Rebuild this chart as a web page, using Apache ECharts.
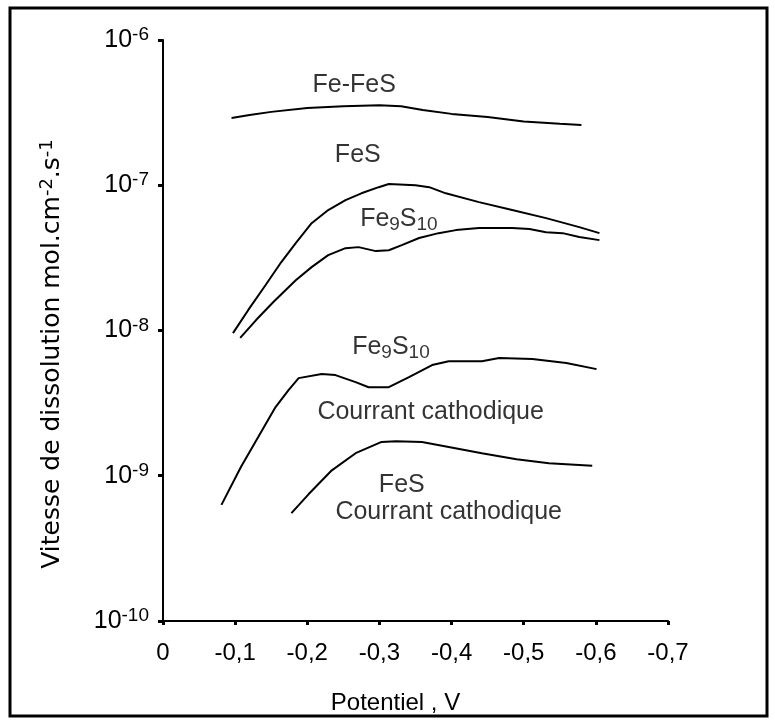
<!DOCTYPE html>
<html>
<head>
<meta charset="utf-8">
<script src="https://cdn.jsdelivr.net/npm/echarts@6/dist/echarts.min.js"></script>
<style>html,body{margin:0;padding:0;background:#fff}#c{width:775px;height:723px}</style>
</head>
<body>
<div id="c"></div>
<script>
// Potentials (V) and dissolution rates (mol.cm-2.s-1)
const feFeS_V = [-0.095, -0.12, -0.15, -0.20, -0.25, -0.30, -0.33, -0.36, -0.40, -0.45, -0.50, -0.55, -0.58];
const feFeS_R = [2.9e-7, 3.05e-7, 3.2e-7, 3.4e-7, 3.5e-7, 3.55e-7, 3.5e-7, 3.3e-7, 3.1e-7, 2.95e-7, 2.75e-7, 2.65e-7, 2.6e-7];

const feS_V = [-0.097, -0.118, -0.142, -0.164, -0.184, -0.206, -0.229, -0.253, -0.275, -0.299, -0.313, -0.350, -0.369, -0.392, -0.438, -0.484, -0.531, -0.577, -0.605];
const feS_R = [9.6e-9, 1.38e-8, 2.05e-8, 2.96e-8, 4.0e-8, 5.48e-8, 6.75e-8, 7.9e-8, 8.8e-8, 9.7e-8, 1.02e-7, 1.0e-7, 9.7e-8, 8.8e-8, 7.65e-8, 6.75e-8, 5.94e-8, 5.15e-8, 4.68e-8];

const fe9S10_V = [-0.107, -0.129, -0.153, -0.184, -0.206, -0.229, -0.253, -0.271, -0.295, -0.313, -0.331, -0.355, -0.382, -0.406, -0.438, -0.484, -0.508, -0.531, -0.554, -0.577, -0.605];
const fe9S10_R = [8.9e-9, 1.18e-8, 1.57e-8, 2.22e-8, 2.73e-8, 3.30e-8, 3.69e-8, 3.75e-8, 3.52e-8, 3.57e-8, 3.87e-8, 4.33e-8, 4.68e-8, 4.91e-8, 5.07e-8, 5.07e-8, 4.99e-8, 4.75e-8, 4.68e-8, 4.40e-8, 4.19e-8];

const fe9S10c_V = [-0.081, -0.108, -0.132, -0.156, -0.174, -0.188, -0.220, -0.239, -0.267, -0.285, -0.313, -0.341, -0.373, -0.396, -0.442, -0.466, -0.512, -0.559, -0.601];
const fe9S10c_R = [6.3e-10, 1.15e-9, 1.85e-9, 2.97e-9, 3.89e-9, 4.70e-9, 5.01e-9, 4.93e-9, 4.41e-9, 4.07e-9, 4.07e-9, 4.78e-9, 5.78e-9, 6.15e-9, 6.15e-9, 6.46e-9, 6.36e-9, 5.97e-9, 5.42e-9];

const feSc_V = [-0.178, -0.202, -0.234, -0.267, -0.303, -0.323, -0.359, -0.396, -0.442, -0.490, -0.535, -0.595];
const feSc_R = [5.53e-10, 7.48e-10, 1.09e-9, 1.43e-9, 1.71e-9, 1.73e-9, 1.71e-9, 1.58e-9, 1.43e-9, 1.30e-9, 1.22e-9, 1.17e-9];

// Curve annotations (text, potential, rate)
const noteText = ['Fe-FeS', 'FeS', 'Fe{sub|9}S{sub|10}', 'Fe{sub|9}S{sub|10}', 'Courrant cathodique', 'FeS', 'Courrant cathodique'];
const noteV    = [-0.265, -0.27, -0.327, -0.316, -0.371, -0.331, -0.396];
const noteR    = [4.9e-7, 1.6e-7, 5.85e-8, 7.7e-9, 2.74e-9, 8.6e-10, 5.6e-10];

// Axis ticks
const xMin = -0.7, xMax = 0, xStep = 0.1;
const yMin = 1e-10, yMax = 1e-6;
const yTitle = 'Vitesse de dissolution mol.cm{s|-2}.s{s|-1}';
const xTitle = 'Potentiel , V';

const FONT = '"Liberation Sans", Arial, sans-serif';
const WFONT = '"DejaVu Sans", "Liberation Sans", sans-serif';
const zip = (a, b) => a.map((v, i) => [v, b[i]]);
const lineSeries = (V, R) => ({
  type: 'line', data: zip(V, R), showSymbol: false, symbol: 'none',
  lineStyle: { color: '#000', width: 2 }, silent: true, animation: false
});

const chart = echarts.init(document.getElementById('c'), null, { renderer: 'canvas' });
chart.setOption({
  backgroundColor: '#fff',
  animation: false,
  graphic: [
    { type: 'rect', shape: { x: 10, y: 8, width: 757, height: 708 }, style: { fill: 'none', stroke: '#000', lineWidth: 3 }, silent: true },
    { type: 'text', x: 52, y: 354, rotation: Math.PI / 2, silent: true,
      style: { text: yTitle, fontFamily: WFONT, fontSize: 25, fill: '#000', align: 'center', verticalAlign: 'middle',
        rich: { s: { fontFamily: WFONT, fontSize: 18, fill: '#000', verticalAlign: 'bottom', padding: [0, 0, 10, 0] } } } }
  ],
  grid: { left: 163, right: 107, top: 40, bottom: 102 },
  xAxis: {
    type: 'value', min: xMin, max: xMax, interval: xStep, inverse: true,
    name: xTitle, nameLocation: 'middle', nameGap: 70,
    nameTextStyle: { fontFamily: FONT, fontSize: 24, color: '#000', padding: [0, 40, 0, 0] },
    axisLine: { lineStyle: { color: '#000', width: 2 } },
    axisTick: { show: true, length: 4, lineStyle: { color: '#000', width: 3 } },
    splitLine: { show: false },
    axisLabel: {
      margin: 20, fontFamily: FONT, fontSize: 24, color: '#000',
      formatter: v => Math.abs(v) < 1e-9 ? '0' : v.toFixed(1).replace('.', ',')
    }
  },
  yAxis: {
    type: 'log', logBase: 10, min: yMin, max: yMax,
    axisLine: { show: true, lineStyle: { color: '#000', width: 2 } },
    axisTick: { show: true, length: 5, lineStyle: { color: '#000', width: 3 } },
    splitLine: { show: false },
    axisLabel: {
      margin: 14, fontFamily: FONT, fontSize: 25, color: '#000',
      formatter: v => '10{s|' + Math.round(Math.log10(v)) + '}',
      rich: { s: { fontFamily: FONT, fontSize: 19, color: '#000', verticalAlign: 'bottom', padding: [0, 0, 10, 0] } }
    }
  },
  series: [
    lineSeries(feFeS_V, feFeS_R),
    lineSeries(feS_V, feS_R),
    lineSeries(fe9S10_V, fe9S10_R),
    lineSeries(fe9S10c_V, fe9S10c_R),
    lineSeries(feSc_V, feSc_R),
    {
      type: 'scatter', symbolSize: 0, silent: true, animation: false,
      data: noteV.map((v, i) => ({ value: [v, noteR[i]], name: noteText[i] })),
      label: {
        show: true, position: 'inside', formatter: p => p.name,
        fontFamily: FONT, fontSize: 25, color: '#000',
        rich: { sub: { fontFamily: FONT, fontSize: 19, color: '#000', verticalAlign: 'top', padding: [12, 0, 0, 0] } }
      }
    }
  ]
});
</script>
</body>
</html>
